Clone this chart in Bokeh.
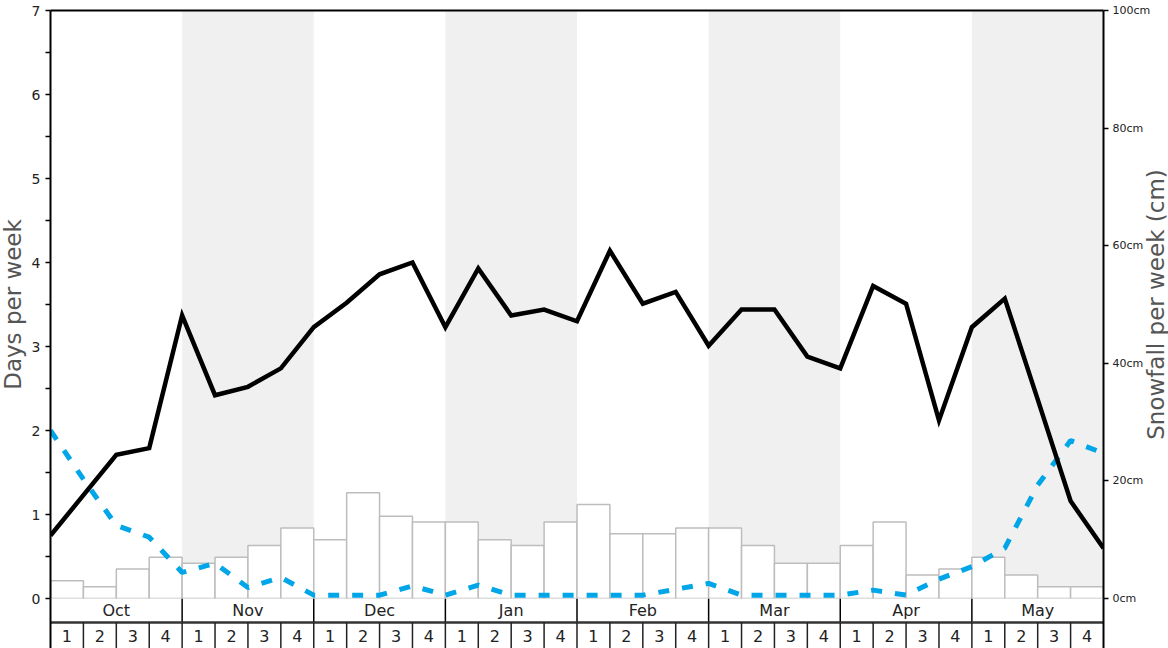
import math
from bokeh.plotting import figure
from bokeh.layouts import column
from bokeh.models import Range1d, LinearAxis, FixedTicker
from bokeh.core.properties import value
from bokeh.embed import file_html
from bokeh.resources import INLINE

# ---------------- data ----------------
months = ["Oct", "Nov", "Dec", "Jan", "Feb", "Mar", "Apr", "May"]
week_labels = ["1", "2", "3", "4"]

# snowfall per week (cm), one bar per week (32 weeks)
snowfall_cm = [3, 2, 5, 7,
               6, 7, 9, 12,
               10, 18, 14, 13,
               13, 10, 9, 13,
               16, 11, 11, 12,
               12, 9, 6, 6,
               9, 13, 4, 5,
               7, 4, 2, 2]

# days per week (black line), at week boundaries (33 points)
days_black = [0.75, 1.23, 1.71, 1.79, 3.37, 2.42, 2.52, 2.74, 3.23, 3.52, 3.86,
              4.00, 3.23, 3.93, 3.37, 3.44, 3.30, 4.14, 3.51, 3.65, 3.01, 3.44,
              3.44, 2.88, 2.74, 3.72, 3.51, 2.12, 3.23, 3.57, 2.37, 1.16, 0.60]

# days per week (blue dashed line), at week boundaries (33 points)
days_blue = [2.00, 1.42, 0.87, 0.73, 0.31, 0.42, 0.13, 0.25, 0.04, 0.04, 0.04,
             0.15, 0.04, 0.16, 0.04, 0.04, 0.04, 0.04, 0.04, 0.11, 0.18, 0.04,
             0.04, 0.04, 0.04, 0.10, 0.04, 0.23, 0.38, 0.60, 1.35, 1.88, 1.73]

left_ticks = [0, 1, 2, 3, 4, 5, 6, 7]
right_ticks = [0, 20, 40, 60, 80, 100]
left_title = "Days per week"
right_title = "Snowfall per week (cm)"

# ---------------- layout ----------------
n_weeks = len(snowfall_cm)
wpm = 4
FONT = "DejaVu Sans"
W = 1168
TOP_H = 598
ROW_H = 50
BL, BR = 50, 65
OVER = 8  # main figure extends below its frame so the "0" labels are not cut

xr = Range1d(0, n_weeks)

# ----- main chart -----
p = figure(width=W, height=TOP_H + OVER, output_backend="svg", toolbar_location=None,
           x_range=xr, y_range=Range1d(0, 7), x_axis_location=None,
           min_border_left=BL, min_border_right=BR, min_border_top=10, min_border_bottom=OVER)
p.extra_y_ranges = {"snow": Range1d(0, 100)}
p.xgrid.visible = False
p.ygrid.visible = False
p.background_fill_color = "white"
p.border_fill_color = "white"
p.outline_line_color = None

# alternating month bands
gray_left = [m * wpm for m in range(len(months)) if m % 2 == 1]
gray_right = [l + wpm for l in gray_left]
p.quad(left=gray_left, right=gray_right, bottom=0, top=7,
       fill_color="#f0f0f0", line_color=None)

# snowfall bars
bar_x = [i + 0.5 for i in range(n_weeks)]
p.vbar(x=bar_x, width=1, bottom=0, top=snowfall_cm, y_range_name="snow",
       fill_color="white", line_color="#bdbdbd", line_width=1.5)

# lines
xs = list(range(len(days_black)))
p.line(xs, days_blue, line_color="#00a6e8", line_width=5, line_dash="11 13")
p.line(xs, days_black, line_color="black", line_width=4.5, line_join="miter")

# left axis
ya = p.yaxis[0]
ya.ticker = FixedTicker(ticks=left_ticks, minor_ticks=[t + 0.5 for t in left_ticks[:-1]])
ya.axis_line_width = 2
ya.axis_line_color = "black"
ya.major_tick_out = 5
ya.major_tick_in = 0
ya.minor_tick_out = 5
ya.minor_tick_in = 0
ya.major_tick_line_width = 1.5
ya.minor_tick_line_width = 1.5
ya.major_label_text_font = FONT
ya.major_label_text_font_size = "14px"
ya.major_label_text_color = "#222222"
ya.major_label_standoff = 5

# right axis
ra = LinearAxis(y_range_name="snow", ticker=FixedTicker(ticks=right_ticks, minor_ticks=[]),
                major_label_overrides={t: f"{t}cm" for t in right_ticks})
ra.axis_line_width = 2
ra.axis_line_color = "black"
ra.major_tick_out = 5
ra.major_tick_in = 0
ra.minor_tick_out = 0
ra.minor_tick_in = 0
ra.major_tick_line_width = 1.5
ra.major_label_text_font = FONT
ra.major_label_text_font_size = "11px"
ra.major_label_text_color = "#222222"
ra.major_label_standoff = 4
p.add_layout(ra, "right")

# top frame line
ta = LinearAxis(ticker=FixedTicker(ticks=[]), axis_line_width=2, axis_line_color="black",
                major_tick_out=0, minor_tick_out=0, major_label_text_font_size="0px")
p.add_layout(ta, "above")

# ----- month / week label rows -----
row_split = -24
p2 = figure(width=W, height=ROW_H, output_backend="svg", toolbar_location=None,
            x_range=xr, y_range=Range1d(-ROW_H, 0), x_axis_location=None, y_axis_location=None,
            min_border_left=BL, min_border_right=BR, min_border_top=0, min_border_bottom=0)
p2.xgrid.visible = False
p2.ygrid.visible = False
p2.background_fill_color = None
p2.border_fill_color = None
p2.outline_line_color = None
p2.margin = (-OVER, 0, 0, 0)

for loc in ("left", "right"):
    ax = LinearAxis(ticker=FixedTicker(ticks=[]), axis_line_width=2, axis_line_color="black",
                    major_tick_out=0, minor_tick_out=0, major_label_text_font_size="0px")
    p2.add_layout(ax, loc)

month_sep = [m * wpm for m in range(1, len(months))]
p2.segment(x0=month_sep, y0=0, x1=month_sep, y1=row_split, line_color="black", line_width=1.5)
p2.segment(x0=[0], y0=[row_split], x1=[n_weeks], y1=[row_split], line_color="#333333", line_width=2.5)
week_sep = list(range(1, n_weeks))
p2.segment(x0=week_sep, y0=row_split, x1=week_sep, y1=-ROW_H, line_color="#222222", line_width=1.5)

month_x = [m * wpm + wpm / 2 for m in range(len(months))]
p2.text(x=month_x, y=[row_split / 2] * len(months), text=months,
        text_align="center", text_baseline="middle", text_font=value(FONT),
        text_font_size="16px", text_color="#222222")
wk_text = [week_labels[i % wpm] for i in range(n_weeks)]
p2.text(x=bar_x, y=[-37] * n_weeks, text=wk_text,
        text_align="center", text_baseline="middle", text_font=value(FONT),
        text_font_size="16px", text_color="#222222")

# ----- axis titles (transparent layer drawn on top of the chart) -----
pt = figure(width=W, height=TOP_H, output_backend="svg", toolbar_location=None, title=None,
            x_range=Range1d(0, W), y_range=Range1d(0, TOP_H),
            x_axis_location=None, y_axis_location=None, min_border=0)
if "frame_align" in pt.properties():
    pt.frame_align = False
pt.xgrid.visible = False
pt.ygrid.visible = False
pt.outline_line_color = None
pt.background_fill_color = None
pt.border_fill_color = None
title_y = TOP_H - 304
pt.text(x=[12, 1155], y=[title_y, title_y], text=[left_title, right_title],
        angle=math.pi / 2, text_align="center", text_baseline="middle",
        text_font=value(FONT), text_font_size="23px", text_color="#555555")
pt.margin = (-(TOP_H + ROW_H), 0, 0, 0)

layout = column(p, p2, pt, spacing=0)
open("out.html", "w").write(file_html(layout, INLINE))
